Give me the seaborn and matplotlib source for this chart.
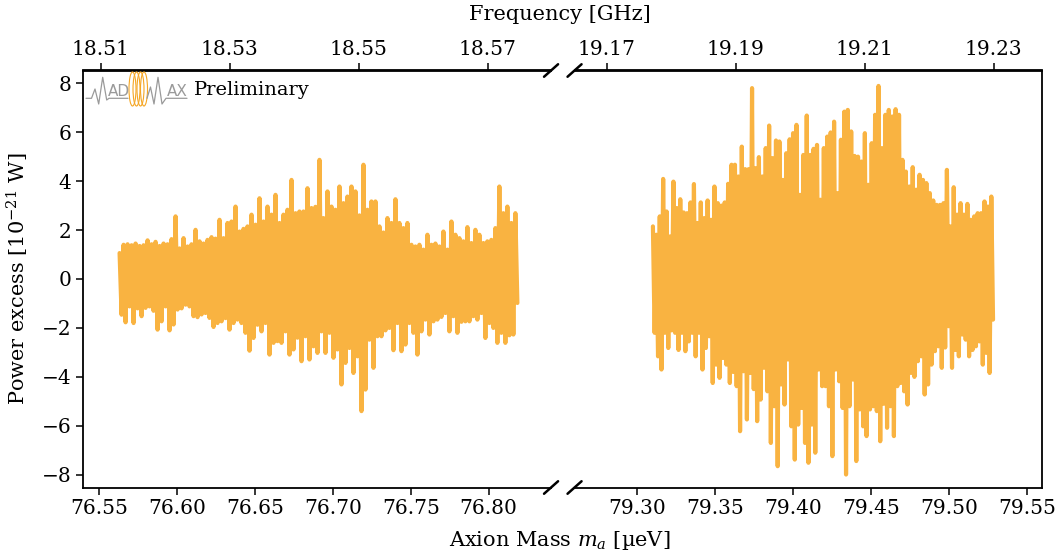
import numpy as np
import pandas as pd
import matplotlib
matplotlib.use("Agg")
import matplotlib.pyplot as plt
from matplotlib.lines import Line2D
from matplotlib.patches import Ellipse
import seaborn as sns

# ---------------------------------------------------------------------------
# Power excess spectra [1e-21 W]: successive upper / lower excursions
# sampled on a uniform axion-mass grid [µeV] for the two measurement runs.
# ---------------------------------------------------------------------------
left_upper_mass = (76.56327, 76.81712)
left_lower_mass = (76.56455, 76.81840)
left_upper = [
    1.06, 1.40, 1.42, 1.38, 1.45, 1.35, 1.38, 1.58, 1.42, 1.52,
    1.35, 1.45, 1.42, 1.63, 2.56, 1.25, 1.67, 1.33, 1.42, 2.01,
    1.54, 1.45, 1.60, 1.71, 1.65, 2.42, 1.67, 2.29, 2.35, 2.96,
    1.94, 2.05, 2.15, 2.63, 2.22, 3.30, 2.35, 2.96, 2.63, 3.44,
    2.29, 2.63, 2.83, 4.05, 2.69, 2.76, 2.76, 3.71, 2.90, 2.95,
    4.87, 2.49, 3.58, 2.96, 2.83, 3.78, 3.10, 3.37, 3.78, 3.58,
    2.60, 4.67, 2.83, 3.17, 3.17, 2.15, 1.90, 2.49, 2.29, 3.26,
    2.29, 2.08, 2.29, 1.40, 1.33, 1.40, 1.20, 1.81, 1.40, 1.45,
    1.33, 1.94, 1.20, 2.35, 1.81, 1.67, 1.54, 2.12, 1.47, 2.01,
    1.81, 1.47, 1.54, 1.60, 2.08, 3.78, 2.69, 2.96, 2.29, 2.69,
]
left_lower = [
    -1.46, -1.77, -1.12, -1.80, -1.20, -1.52, -1.18, -1.12, -1.30, -2.07,
    -1.73, -1.12, -2.10, -1.86, -1.25, -1.20, -1.05, -1.12, -1.52, -1.56,
    -1.45, -1.39, -1.59, -1.96, -1.80, -1.73, -1.60, -2.07, -1.80, -1.66,
    -1.80, -2.20, -2.93, -2.41, -1.87, -2.14, -1.80, -3.09, -2.61, -2.54,
    -2.61, -2.14, -3.09, -2.88, -2.40, -3.36, -2.34, -3.29, -2.75, -3.02,
    -2.14, -3.02, -2.20, -3.22, -2.88, -4.31, -3.43, -2.82, -3.84, -3.16,
    -5.40, -4.52, -2.48, -3.63, -2.34, -2.34, -2.10, -2.00, -2.91, -1.80,
    -2.95, -2.68, -1.80, -2.20, -3.09, -2.14, -1.66, -2.27, -1.73, -1.66,
    -1.55, -1.39, -2.14, -1.52, -2.20, -1.75, -1.73, -1.73, -1.52, -1.66,
    -1.39, -2.41, -1.80, -2.00, -2.61, -2.20, -2.61, -2.30, -2.27, -0.98,
]

right_upper_mass = (79.31026, 79.52731)
right_lower_mass = (79.31135, 79.52840)
right_upper = [
    2.15, 1.81, 2.56, 4.09, 2.76, 1.74, 3.98, 2.90, 3.26, 2.72,
    2.69, 3.13, 3.88, 2.29, 3.13, 2.49, 3.21, 2.42, 3.78, 3.10,
    3.00, 3.13, 3.89, 4.67, 4.67, 4.19, 5.41, 4.49, 4.49, 7.80,
    4.53, 4.98, 4.19, 5.35, 6.27, 4.94, 5.66, 5.62, 4.05, 5.14,
    5.71, 5.96, 6.30, 3.44, 5.07, 6.68, 5.07, 5.32, 5.48, 3.24,
    5.35, 5.82, 5.99, 6.43, 3.51, 5.69, 6.84, 6.91, 6.03, 5.03,
    5.00, 4.80, 5.96, 3.85, 5.55, 6.71, 7.89, 5.35, 6.71, 6.91,
    6.64, 6.94, 6.71, 4.87, 4.39, 3.78, 4.57, 3.65, 4.26, 4.05,
    3.92, 3.51, 3.21, 3.03, 3.03, 3.10, 4.46, 2.15, 3.75, 2.63,
    3.10, 2.63, 3.07, 2.42, 2.56, 2.69, 2.69, 3.17, 2.96, 3.37,
]
right_lower = [
    -2.20, -3.16, -3.70, -2.20, -2.82, -2.10, -2.20, -2.90, -2.20, -2.95,
    -2.55, -2.20, -3.16, -2.20, -3.70, -2.82, -2.34, -4.25, -3.50, -4.04,
    -3.23, -3.50, -4.25, -3.80, -4.38, -6.22, -3.77, -5.74, -3.84, -4.50,
    -5.81, -4.93, -3.63, -4.59, -6.70, -5.20, -7.65, -4.31, -5.13, -3.29,
    -6.02, -7.38, -5.95, -5.27, -6.70, -7.51, -5.95, -7.10, -3.70, -4.38,
    -4.38, -5.20, -7.24, -3.70, -4.18, -5.27, -7.99, -5.20, -4.11, -7.44,
    -5.33, -6.02, -6.42, -5.33, -5.20, -5.40, -6.63, -5.10, -6.08, -5.20,
    -6.42, -4.38, -4.25, -4.59, -5.13, -3.84, -4.00, -3.36, -3.16, -4.72,
    -4.31, -3.50, -2.95, -2.75, -3.63, -2.80, -1.93, -3.63, -2.90, -3.16,
    -2.27, -2.48, -3.16, -2.90, -2.75, -2.55, -3.50, -3.02, -3.84, -1.66,
]

# axis ranges and ticks
left_xlim = (76.54, 76.84)
right_xlim = (79.26, 79.56)
left_mass_ticks = [76.55, 76.60, 76.65, 76.70, 76.75, 76.80]
right_mass_ticks = [79.30, 79.35, 79.40, 79.45, 79.50, 79.55]
left_freq_ticks = [18.51, 18.53, 18.55, 18.57]
right_freq_ticks = [19.17, 19.19, 19.21, 19.23]
power_ticks = [-8, -6, -4, -2, 0, 2, 4, 6, 8]
power_lim = (-8.52, 8.52)

GHZ_PER_UEV = 0.2417989242  # E = h f


def spectrum(upper_mass, upper, lower_mass, lower):
    up = pd.DataFrame({"mass": np.linspace(*upper_mass, len(upper)), "power": upper})
    lo = pd.DataFrame({"mass": np.linspace(*lower_mass, len(lower)), "power": lower})
    return pd.concat([up, lo]).sort_values("mass").reset_index(drop=True)


left_df = spectrum(left_upper_mass, left_upper, left_lower_mass, left_lower)
right_df = spectrum(right_upper_mass, right_upper, right_lower_mass, right_lower)

# ---------------------------------------------------------------------------
sns.set_theme(style="ticks", rc={
    "axes.edgecolor": "black", "axes.labelcolor": "black", "text.color": "black",
    "xtick.color": "black", "ytick.color": "black", "axes.linewidth": 1.3,
    "xtick.major.width": 1.1, "ytick.major.width": 1.1,
    "xtick.major.size": 5, "ytick.major.size": 5,
})
plt.rcParams["font.family"] = ["DejaVu Serif"]
plt.rcParams["mathtext.fontset"] = "dejavuserif"

FIG_W, FIG_H = 1058, 554
fig, (axl, axr) = plt.subplots(1, 2, figsize=(FIG_W / 100, FIG_H / 100), dpi=100, sharey=True)
fig.subplots_adjust(left=83.3 / FIG_W, right=1042.3 / FIG_W,
                    bottom=1 - 487.5 / FIG_H, top=1 - 70.5 / FIG_H,
                    wspace=23.5 / 467.8)

LINE_COLOR = "#F9B341"
for ax, df in ((axl, left_df), (axr, right_df)):
    sns.lineplot(data=df, x="mass", y="power", estimator=None, sort=True,
                 color=LINE_COLOR, lw=3.0, ax=ax)
    ax.set_xlabel("")
    ax.set_ylabel("")

TICK_FS = 14.5
LABEL_FS = 15

axl.set_xlim(*left_xlim)
axr.set_xlim(*right_xlim)
axl.set_ylim(*power_lim)
axl.set_yticks(power_ticks)
axl.set_yticklabels([f"{v:d}".replace("-", "\u2212") for v in power_ticks], fontsize=TICK_FS)
axl.set_xticks(left_mass_ticks)
axl.set_xticklabels([f"{v:.2f}" for v in left_mass_ticks], fontsize=TICK_FS)
axr.set_xticks(right_mass_ticks)
axr.set_xticklabels([f"{v:.2f}" for v in right_mass_ticks], fontsize=TICK_FS)

axl.spines["right"].set_visible(False)
axr.spines["left"].set_visible(False)
axr.tick_params(axis="y", left=False, labelleft=False)


def to_freq(m):
    return np.asarray(m) * GHZ_PER_UEV


def to_mass(f):
    return np.asarray(f) / GHZ_PER_UEV


for ax, fticks in ((axl, left_freq_ticks), (axr, right_freq_ticks)):
    sec = ax.secondary_xaxis("top", functions=(to_freq, to_mass))
    sec.set_xticks(fticks)
    sec.set_xticklabels([f"{v:.2f}" for v in fticks], fontsize=TICK_FS)
    sec.tick_params(width=1.1, length=5)
    for s in sec.spines.values():
        s.set_linewidth(1.3)

# broken-axis markers
d = 0.015
kw = dict(color="black", clip_on=False, lw=1.8)
axl.plot((1 - d, 1 + d), (-d, d), transform=axl.transAxes, **kw)
axl.plot((1 - d, 1 + d), (1 - d, 1 + d), transform=axl.transAxes, **kw)
axr.plot((-d, d), (-d, d), transform=axr.transAxes, **kw)
axr.plot((-d, d), (1 - d, 1 + d), transform=axr.transAxes, **kw)

# shared axis labels
fig.text(560 / FIG_W, 1 - 541 / FIG_H, r"Axion Mass $m_a$ [µeV]", ha="center", va="center", fontsize=LABEL_FS)
fig.text(560 / FIG_W, 1 - 14 / FIG_H, "Frequency [GHz]", ha="center", va="center", fontsize=LABEL_FS)
fig.text(18 / FIG_W, 1 - 279 / FIG_H, r"Power excess [$10^{-21}$ W]", ha="center", va="center",
         rotation=90, fontsize=LABEL_FS)


# MADMAX logo and "Preliminary" tag
def fp(px, py):
    return px / FIG_W, 1 - py / FIG_H


def logo_line(pts, color, lw=0.9):
    xs, ys = zip(*[fp(x, y) for x, y in pts])
    fig.add_artist(Line2D(xs, ys, transform=fig.transFigure, color=color, lw=lw))


GREY = "#9a9a9a"
logo_line([(86, 98.3), (91.5, 98.3), (95, 89), (98.7, 104), (102.7, 77.3), (106.7, 100),
           (109, 98.3), (128, 98.3)], GREY)
logo_line([(147, 98.3), (150.5, 87), (154, 104), (158, 77.3), (162, 104), (166, 98.3),
           (187, 98.3)], GREY)
fig.text(*fp(119, 91), "AD", ha="center", va="center", fontsize=11, color=GREY,
         family="DejaVu Sans")
fig.text(*fp(177, 91), "AX", ha="center", va="center", fontsize=11, color=GREY,
         family="DejaVu Sans")
for cx in (132.5, 136.5, 140.5, 144):
    fig.add_artist(Ellipse(fp(cx, 89), 7 / FIG_W, 34 / FIG_H, transform=fig.transFigure,
                           fill=False, edgecolor="#F5A623", lw=0.8))
fig.text(*fp(194, 90), "Preliminary", ha="left", va="center", fontsize=14)

fig.savefig("out.png", dpi=100)
